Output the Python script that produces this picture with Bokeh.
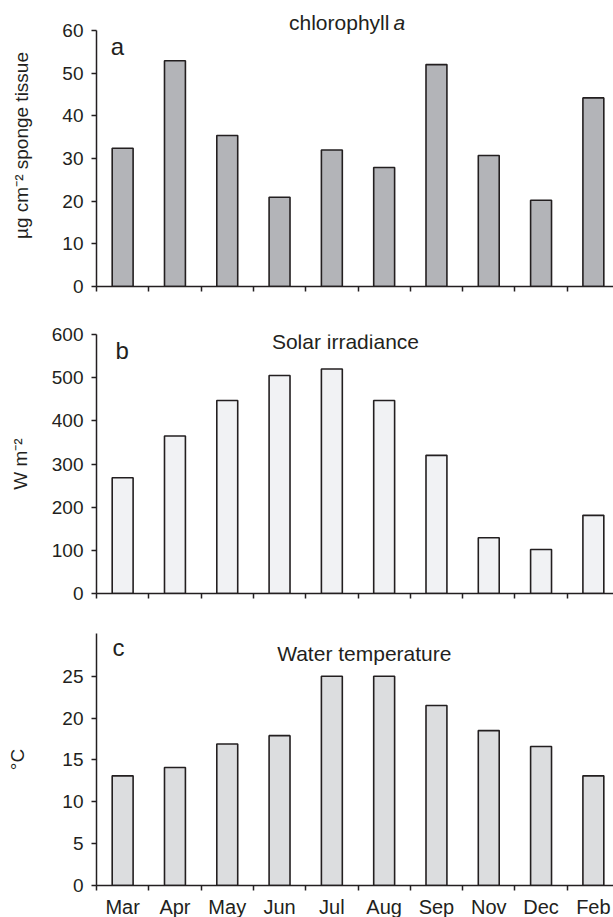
from bokeh.plotting import figure
from bokeh.layouts import column
from bokeh.models import Range1d, FixedTicker, Label, ColumnDataSource
from bokeh.embed import file_html
from bokeh.resources import INLINE

months = ["Mar", "Apr", "May", "Jun", "Jul", "Aug", "Sep", "Nov", "Dec", "Feb"]
chlorophyll = [32.4, 52.9, 35.4, 20.9, 32.0, 27.9, 52.0, 30.7, 20.2, 44.2]
irradiance = [268, 365, 447, 505, 520, 447, 320, 129, 102, 181]
temperature = [13.1, 14.1, 16.9, 17.9, 25.0, 25.0, 21.5, 18.5, 16.6, 13.1]

FONT = "Liberation Sans"
INK = "#231f20"
W = 613
n = len(months)
centers = [i + 0.5 for i in range(n)]
bounds = list(range(n + 1))


def make_panel(values, color, ymax, ybound, yticks, ylabel, label_standoff,
               height, border_top, border_bottom, show_labels):
    p = figure(width=W, height=height, output_backend="svg", toolbar_location=None,
               x_range=Range1d(0, 9.885), y_range=Range1d(0, ymax),
               min_border_left=96, min_border_right=0,
               min_border_top=border_top, min_border_bottom=border_bottom)
    p.outline_line_color = None
    p.background_fill_color = "white"
    p.border_fill_color = "white"
    p.xgrid.visible = False
    p.ygrid.visible = False
    src = ColumnDataSource(dict(x=centers, top=values, m=months))
    p.vbar(x="x", top="top", bottom=0, width=0.4, source=src,
           fill_color=color, line_color=INK, line_width=1.6)

    xa = p.xaxis[0]
    xa.major_tick_out = 0
    xa.major_tick_in = 0
    xa.minor_tick_out = 5
    xa.minor_tick_in = 0
    xa.minor_tick_line_color = INK
    xa.minor_tick_line_width = 1.5
    xa.axis_line_color = INK
    xa.axis_line_width = 1.5
    if show_labels:
        xa.ticker = FixedTicker(ticks=centers, minor_ticks=bounds)
        xa.major_label_overrides = {c: m for c, m in zip(centers, months)}
        xa.major_label_text_font = FONT
        xa.major_label_text_font_size = "20px"
        xa.major_label_text_color = INK
        xa.major_label_standoff = 5
    else:
        xa.ticker = FixedTicker(ticks=[], minor_ticks=bounds)
        xa.major_label_standoff = 0

    ya = p.yaxis[0]
    ya.ticker = FixedTicker(ticks=yticks)
    ya.bounds = (0, ybound)
    ya.major_tick_out = 5
    ya.major_tick_in = 0
    ya.minor_tick_out = 0
    ya.minor_tick_in = 0
    ya.axis_line_color = INK
    ya.axis_line_width = 1.5
    ya.major_tick_line_color = INK
    ya.major_tick_line_width = 1.5
    ya.major_label_text_font = FONT
    ya.major_label_text_font_size = "19px"
    ya.major_label_text_color = INK
    ya.major_label_standoff = 8
    ya.axis_label = ylabel
    ya.axis_label_text_font = FONT
    ya.axis_label_text_font_size = "19px"
    ya.axis_label_text_font_style = "normal"
    ya.axis_label_text_color = INK
    ya.axis_label_standoff = label_standoff
    return p


def add_text(p, x, y, text, size="21px", align="center", style="normal"):
    p.add_layout(Label(x=x, y=y, text=text, text_font=FONT, text_font_size=size,
                       text_color=INK, text_align=align, text_baseline="middle",
                       text_font_style=style))


# panel a
pa = make_panel(chlorophyll, "#b3b4b8", 66.09, 60, [0, 10, 20, 30, 40, 50, 60],
                "µg cm⁻² sponge tissue", 27, 300, 4, 14, False)
add_text(pa, 5.60, 61.9, "chlorophyll", align="right")
add_text(pa, 5.68, 61.9, "a", align="left", style="italic")
add_text(pa, 0.40, 56.2, "a", size="24px")

# panel b
pb = make_panel(irradiance, "#f1f2f4", 600, 600, [0, 100, 200, 300, 400, 500, 600],
                "W m⁻²", 18, 305, 34, 12, False)
add_text(pb, 4.76, 584, "Solar irradiance")
add_text(pb, 0.49, 563.5, "b", size="24px")

# panel c
pc = make_panel(temperature, "#dcdddf", 30.1, 30.1, [0, 5, 10, 15, 20, 25],
                "°C", 31, 315, 28, 34, True)
add_text(pc, 5.12, 27.7, "Water temperature")
add_text(pc, 0.42, 28.45, "c", size="24px")

layout = column(pa, pb, pc, spacing=0)
open("out.html", "w").write(file_html(layout, INLINE))
